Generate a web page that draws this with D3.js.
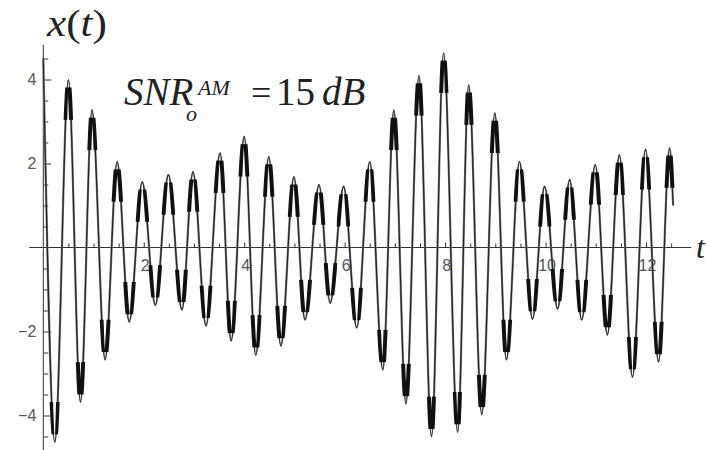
<!DOCTYPE html>
<html>
<head>
<meta charset="utf-8">
<script src="https://cdn.jsdelivr.net/npm/d3@7"></script>
<style>
  body { margin: 0; background: white; }
  svg { display: block; }
</style>
</head>
<body>
<div id="chart"></div>
<script>
// signal extrema (t, x(t))
const sigT = [0, 0.23, 0.50, 0.74, 0.97, 1.23, 1.47, 1.71, 1.97, 2.23, 2.49, 2.76, 2.98, 3.24,
  3.52, 3.74, 4.00, 4.23, 4.49, 4.73, 4.99, 5.21, 5.49, 5.71, 5.98, 6.24, 6.50, 6.76,
  6.98, 7.22, 7.48, 7.73, 7.97, 8.25, 8.47, 8.73, 8.99, 9.22, 9.48, 9.74, 9.98, 10.24,
  10.48, 10.72, 10.99, 11.23, 11.47, 11.73, 11.99, 12.25, 12.47, 12.54];
const sigV = [4.5, -4.63, 3.99, -3.68, 3.27, -2.67, 2.04, -1.77, 1.56, -1.37, 1.73, -1.48, 1.80, -1.86,
  2.25, -2.22, 2.64, -2.56, 2.16, -2.34, 1.68, -1.72, 1.49, -1.32, 1.45, -1.91, 2.04, -2.91,
  3.27, -3.72, 4.09, -4.50, 4.63, -4.39, 3.87, -3.98, 3.20, -2.67, 2.04, -1.70, 1.45, -1.46,
  1.61, -1.72, 1.97, -2.08, 2.20, -3.08, 2.33, -2.72, 2.37, 1.00];

// tick labels
const xLabels = [2, 4, 6, 8, 10, 12];
const yLabels = [-4, -2, 2, 4];

const W = 706, H = 450;
const x = d3.scaleLinear().domain([0, 12]).range([43.3, 646]);
const y = d3.scaleLinear().domain([0, 4]).range([247.5, 79.5]);

const svg = d3.select('#chart').append('svg')
  .attr('width', W)
  .attr('height', H)
  .style('background-color', 'white');

const axisColor = '#333';
const sans = 'Liberation Sans, Arial, sans-serif';
const serif = 'Liberation Serif, Times New Roman, serif';

// axis lines
svg.append('line')
  .attr('x1', x(-0.28)).attr('x2', x(12.9))
  .attr('y1', y(0)).attr('y2', y(0))
  .attr('stroke', axisColor).attr('stroke-width', 1);
svg.append('line')
  .attr('x1', x(0)).attr('x2', x(0))
  .attr('y1', y(4.83)).attr('y2', H)
  .attr('stroke', axisColor).attr('stroke-width', 1);

// x ticks (pointing up, labels below)
const xMinor = d3.range(0.5, 12.6, 0.5).filter(v => v % 2 !== 0);
svg.append('g')
  .attr('transform', `translate(0,${y(0)})`)
  .call(d3.axisBottom(x).tickValues(xMinor).tickSizeInner(-4).tickSizeOuter(0).tickFormat(''))
  .call(g => g.select('.domain').remove());
svg.append('g')
  .attr('transform', `translate(0,${y(0)})`)
  .call(d3.axisBottom(x).tickValues(xLabels).tickSizeInner(-5).tickSizeOuter(0).tickPadding(12))
  .call(g => g.select('.domain').remove())
  .call(g => g.selectAll('text')
    .attr('dx', 1)
    .style('font-family', sans)
    .style('font-size', '16px')
    .style('fill', '#555'));

// y ticks (pointing right, labels left)
const yMinor = d3.range(-4.5, 4.6, 0.5).filter(v => v !== 0 && !yLabels.includes(v));
svg.append('g')
  .attr('transform', `translate(${x(0)},0)`)
  .call(d3.axisLeft(y).tickValues(yMinor).tickSizeInner(-5).tickSizeOuter(0).tickFormat(''))
  .call(g => g.select('.domain').remove());
svg.append('g')
  .attr('transform', `translate(${x(0)},0)`)
  .call(d3.axisLeft(y).tickValues(yLabels).tickSizeInner(-8).tickSizeOuter(0).tickPadding(7)
    .tickFormat(d => d < 0 ? '\u2212' + Math.abs(d) : d))
  .call(g => g.select('.domain').remove())
  .call(g => g.selectAll('text')
    .style('font-family', sans)
    .style('font-size', '16px')
    .style('fill', '#555'));

svg.selectAll('.tick line').attr('stroke', axisColor);

// signal
const pts = sigT.map((t, i) => [t, sigV[i]]);
const line = d3.line()
  .x(d => x(d[0]))
  .y(d => y(d[1]))
  .curve(d3.curveMonotoneX);

svg.append('path')
  .datum(pts)
  .attr('d', line)
  .attr('fill', 'none')
  .attr('stroke', '#777')
  .attr('stroke-width', 2.2);

svg.append('path')
  .datum(pts)
  .attr('d', line)
  .attr('fill', 'none')
  .attr('stroke', '#222')
  .attr('stroke-width', 1.1);

// noise bands near each extremum
const clip = svg.append('clipPath').attr('id', 'blobs');
clip.selectAll('rect')
  .data(pts.slice(1, -1))
  .join('rect')
  .attr('x', d => x(d[0]) - 7)
  .attr('width', 14)
  .attr('y', d => d[1] > 0 ? y(d[1] - 0.18) : y(d[1] + 0.95))
  .attr('height', y(0) - y(0.77));

svg.append('path')
  .datum(pts)
  .attr('d', line)
  .attr('clip-path', 'url(#blobs)')
  .attr('fill', 'none')
  .attr('stroke', '#111')
  .attr('stroke-width', 4);

// titles
const yTitle = svg.append('text')
  .attr('x', 47).attr('y', 36)
  .attr('textLength', 60)
  .attr('lengthAdjust', 'spacingAndGlyphs')
  .style('font-family', serif)
  .style('font-size', '37px')
  .style('fill', '#222');
yTitle.append('tspan').style('font-style', 'italic').text('x');
yTitle.append('tspan').text('(');
yTitle.append('tspan').style('font-style', 'italic').text('t');
yTitle.append('tspan').text(')');

svg.append('text')
  .attr('x', 696).attr('y', 258)
  .style('font-family', serif)
  .style('font-size', '32px')
  .style('font-style', 'italic')
  .style('fill', '#222')
  .text('t');

// SNR annotation, one text with positioned parts
const ann = [
  { s: 'SNR', x: 124, y: 105, size: 39, italic: true },
  { s: 'o', x: 186, y: 121, size: 22, italic: true },
  { s: 'AM', x: 198, y: 95, size: 22, italic: true },
  { s: '=', x: 251, y: 105, size: 36, italic: false },
  { s: '15', x: 276, y: 105, size: 39, italic: false },
  { s: 'dB', x: 322, y: 105, size: 39, italic: true }
];
svg.append('text')
  .style('font-family', serif)
  .style('fill', '#222')
  .selectAll('tspan')
  .data(ann)
  .join('tspan')
  .attr('x', d => d.x).attr('y', d => d.y)
  .style('font-size', d => d.size + 'px')
  .style('font-style', d => d.italic ? 'italic' : 'normal')
  .text(d => d.s);
</script>
</body>
</html>
